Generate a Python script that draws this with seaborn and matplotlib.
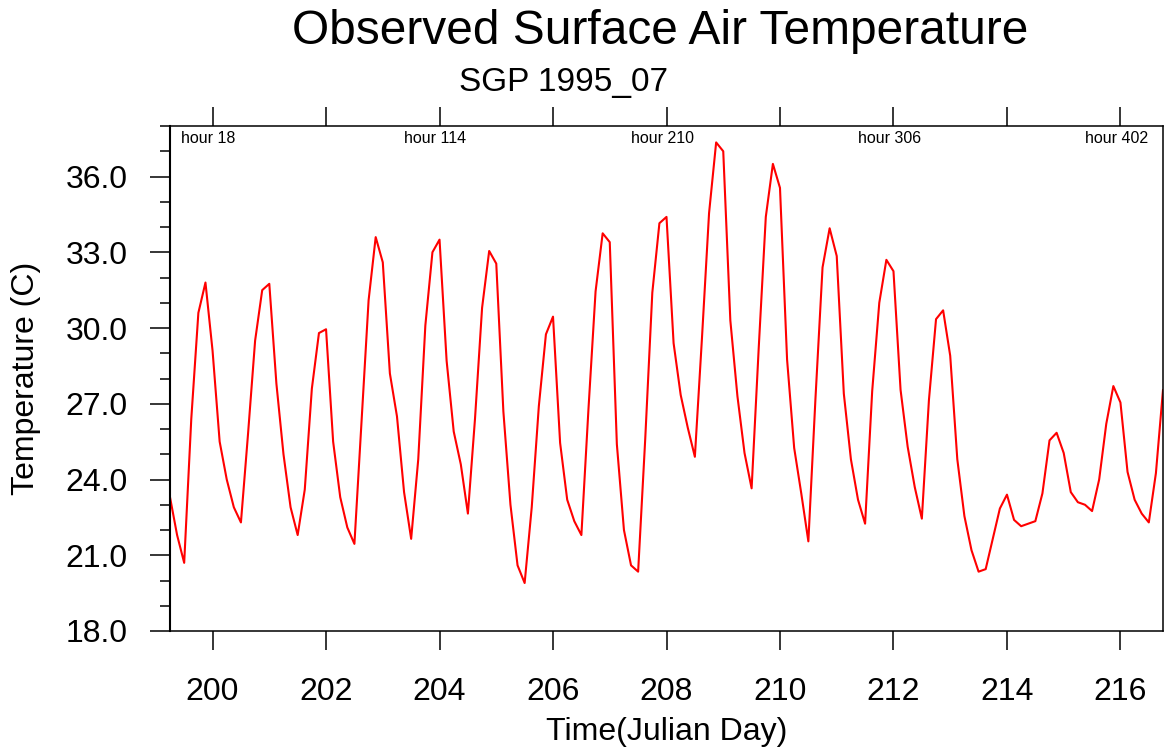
import numpy as np
import matplotlib
matplotlib.use("Agg")
import matplotlib.pyplot as plt
import seaborn as sns
from matplotlib.ticker import MultipleLocator, FormatStrFormatter
from matplotlib.transforms import ScaledTranslation

# ---- data -------------------------------------------------------------
start_day = 199.25          # hour 0
step_days = 0.125           # 3-hourly observations
temperature = [
    23.3, 21.8, 20.7, 26.4, 30.6, 31.8, 29.1, 25.5, 24.0, 22.9,
    22.3, 25.8, 29.5, 31.5, 31.75, 27.8, 25.0, 22.9, 21.8, 23.6,
    27.6, 29.8, 29.95, 25.5, 23.3, 22.1, 21.45, 26.3, 31.1, 33.6,
    32.6, 28.2, 26.5, 23.5, 21.65, 24.8, 30.1, 33.0, 33.5, 28.7,
    25.9, 24.6, 22.65, 26.4, 30.8, 33.05, 32.55, 26.7, 23.0, 20.6,
    19.9, 22.9, 26.9, 29.75, 30.45, 25.45, 23.2, 22.35, 21.8, 26.8,
    31.45, 33.75, 33.4, 25.4, 22.0, 20.6, 20.35, 25.6, 31.4, 34.15,
    34.4, 29.4, 27.35, 26.05, 24.9, 29.6, 34.55, 37.35, 37.0, 30.3,
    27.3, 25.05, 23.65, 29.2, 34.4, 36.5, 35.55, 28.75, 25.25, 23.45,
    21.55, 27.2, 32.4, 33.95, 32.85, 27.4, 24.8, 23.2, 22.25, 27.5,
    31.0, 32.7, 32.25, 27.55, 25.3, 23.7, 22.45, 27.15, 30.35, 30.7,
    28.9, 24.8, 22.55, 21.2, 20.35, 20.45, 21.65, 22.85, 23.4, 22.4,
    22.15, 22.25, 22.35, 23.45, 25.55, 25.85, 25.05, 23.5, 23.1, 23.0,
    22.75, 24.0, 26.2, 27.7, 27.05, 24.3, 23.2, 22.65, 22.3, 24.25,
    27.55,
]
julian_day = start_day + step_days * np.arange(len(temperature))
hour_labels = [18, 114, 210, 306, 402]
x_ticks = [200, 202, 204, 206, 208, 210, 212, 214, 216]
y_ticks = [18, 21, 24, 27, 30, 33, 36]

title = "Observed Surface Air Temperature"
subtitle = "SGP 1995_07"
xlabel = "Time(Julian Day)"
ylabel = "Temperature (C)"

# ---- style ------------------------------------------------------------
sns.set_style("ticks")
plt.rcParams["font.family"] = ["Liberation Sans", "DejaVu Sans"]
plt.rcParams["text.color"] = "black"
plt.rcParams["axes.labelcolor"] = "black"
plt.rcParams["xtick.color"] = "black"
plt.rcParams["ytick.color"] = "black"
plt.rcParams["axes.edgecolor"] = "black"

W, H = 1164, 755
fig = plt.figure(figsize=(W / 100, H / 100), dpi=100)
L, R, T, B = 170, 1163, 126, 631
ax = fig.add_axes([L / W, 1 - B / H, (R - L) / W, (B - T) / H])

sns.lineplot(x=julian_day, y=temperature, color="red", linewidth=1.5, ax=ax)

ax.set_xlim(199.25, 216.75)
ax.set_ylim(18, 38)

ax.set_xticks(x_ticks)
ax.set_xticklabels([str(v) for v in x_ticks])
ax.set_yticks(y_ticks)
ax.yaxis.set_major_formatter(FormatStrFormatter("%.1f"))
ax.yaxis.set_minor_locator(MultipleLocator(1))

ax.tick_params(axis="x", which="major", direction="out", length=14, width=1.1,
               top=True, bottom=True, labeltop=False, labelsize=23, pad=19,
               color="black", labelcolor="black")
ax.tick_params(axis="y", which="major", direction="out", length=14.5, width=1.1,
               left=True, right=False, labelsize=23, pad=16,
               color="black", labelcolor="black")
ax.tick_params(axis="y", which="minor", direction="out", length=7, width=1.1,
               left=True, right=False, color="black")

for side in ["top", "right", "bottom"]:
    ax.spines[side].set_visible(True)
    ax.spines[side].set_linewidth(1.1)
    ax.spines[side].set_color("black")
ax.spines["left"].set_linewidth(1.5)
ax.spines["left"].set_color("black")

# hour annotations inside the top of the plot
shift = ScaledTranslation(-4 / 100, 0, fig.dpi_scale_trans)
for h in hour_labels:
    ax.text(start_day + h / 24.0, 0.975, f"hour {h}", fontsize=11.5,
            ha="center", va="center", color="black",
            transform=ax.get_xaxis_transform() + shift)

ax.set_xlabel(xlabel, fontsize=23, color="black")
ax.set_ylabel(ylabel, fontsize=23, color="black")
ax.xaxis.set_label_coords(0.5, (B - 717) / (B - T))
ax.yaxis.set_label_coords((41 - L) / (R - L), 0.5)

fig.text(660 / W, 1 - 31 / H, title, fontsize=34.5, ha="center", va="center",
         color="black")
fig.text(563.5 / W, 1 - 82 / H, subtitle, fontsize=24, ha="center", va="center",
         color="black")

fig.savefig("out.png", dpi=100)
